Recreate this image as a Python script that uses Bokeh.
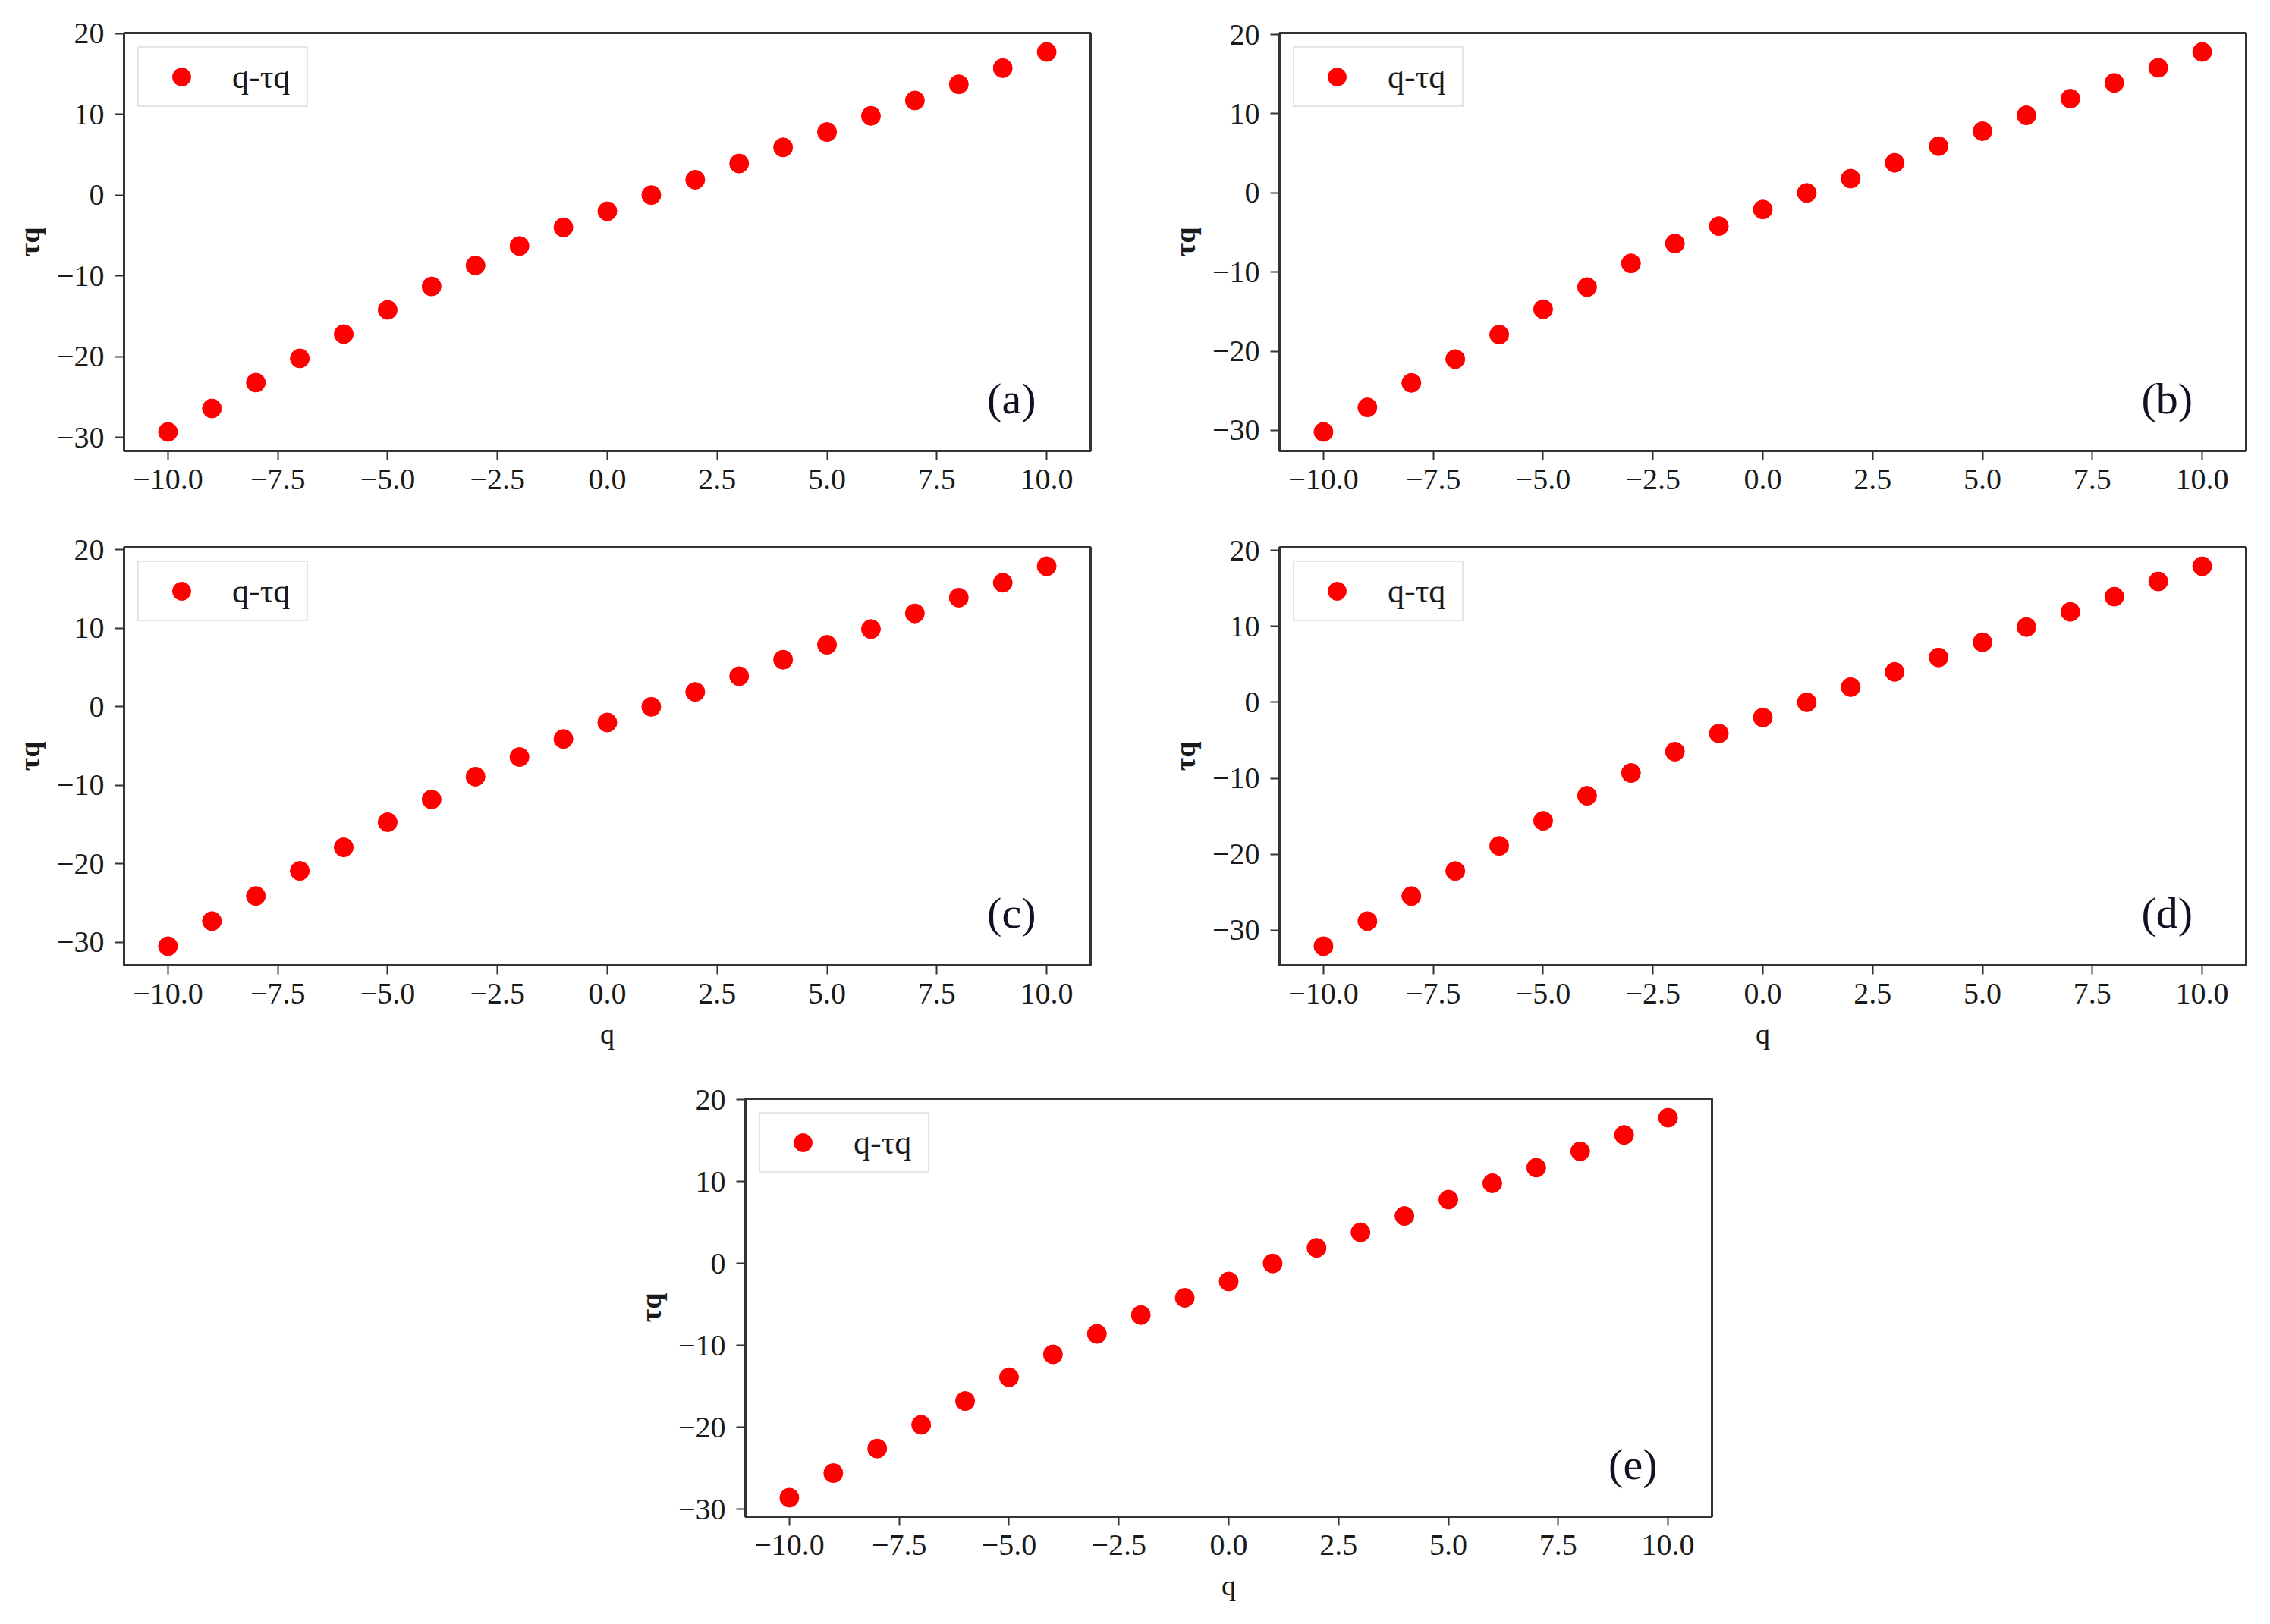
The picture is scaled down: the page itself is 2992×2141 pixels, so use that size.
from bokeh.plotting import figure
from bokeh.models import (Range1d, FixedTicker, CustomJSTickFormatter, Legend, LegendItem,
                          Label, ColumnDataSource, Spacer)
from bokeh.layouts import column, row
from bokeh.embed import file_html
from bokeh.resources import INLINE

# ---------------- data ----------------
q = [-10, -9, -8, -7, -6, -5, -4, -3, -2, -1, 0, 1, 2, 3, 4, 5, 6, 7, 8, 9, 10]
tau_a = [-29.3, -26.4, -23.2, -20.2, -17.2, -14.2, -11.3, -8.7, -6.3, -4.0, -2.0,
         0.0, 1.9, 3.9, 5.9, 7.8, 9.8, 11.7, 13.7, 15.7, 17.7]
tau_b = [-30.2, -27.1, -24.0, -21.0, -17.9, -14.7, -11.9, -8.9, -6.4, -4.2, -2.1,
         0.0, 1.8, 3.8, 5.9, 7.8, 9.8, 11.9, 13.9, 15.8, 17.8]
tau_c = [-30.5, -27.3, -24.1, -20.9, -17.9, -14.7, -11.8, -8.9, -6.4, -4.1, -2.0,
         0.0, 1.9, 3.9, 6.0, 7.9, 9.9, 11.9, 13.9, 15.8, 17.9]
tau_d = [-32.1, -28.8, -25.5, -22.2, -18.9, -15.6, -12.3, -9.3, -6.5, -4.1, -2.0,
         0.0, 2.0, 4.0, 5.9, 7.9, 9.9, 11.9, 13.9, 15.9, 17.9]
tau_e = [-28.6, -25.6, -22.6, -19.7, -16.8, -13.9, -11.1, -8.6, -6.3, -4.2, -2.2,
         0.0, 1.9, 3.8, 5.8, 7.8, 9.8, 11.7, 13.7, 15.7, 17.8]

x_ticks = [-10.0, -7.5, -5.0, -2.5, 0.0, 2.5, 5.0, 7.5, 10.0]
y_ticks = [-30, -20, -10, 0, 10, 20]
panel_tags = ["(a)", "(b)", "(c)", "(d)", "(e)"]
legend_label = "q-τq"
x_label = "q"
y_label = "τq"

FONT = "Liberation Serif"
AX = "#333333"


def make_panel(tau, tag, show_xlabel, bl, br, bt, bb):
    lo, hi = min(tau), max(tau)
    pad = 0.05 * (hi - lo)
    y0, y1 = lo - pad, hi + pad
    p = figure(frame_width=1274, frame_height=551,
               x_range=Range1d(-11, 11), y_range=Range1d(y0, y1),
               output_backend="svg", toolbar_location=None,
               min_border_left=bl, min_border_right=br,
               min_border_top=bt, min_border_bottom=bb)
    p.grid.visible = False
    p.outline_line_color = AX
    p.outline_line_width = 3
    p.background_fill_color = "white"
    p.border_fill_color = "white"

    src = ColumnDataSource(dict(q=q, tau=tau))
    r = p.scatter(x="q", y="tau", source=src, size=25,
                  fill_color="#ff0000", line_color="#ff0000")

    for ax in (p.xaxis[0], p.yaxis[0]):
        ax.major_label_text_font = FONT
        ax.major_label_text_font_size = "40px"
        ax.major_label_text_color = "#1a1a1a"
        ax.major_tick_out = 12
        ax.major_tick_in = 0
        ax.minor_tick_out = 0
        ax.minor_tick_in = 0
        ax.major_tick_line_width = 2
        ax.major_tick_line_color = AX
        ax.axis_line_width = 3
        ax.axis_line_color = AX
        ax.axis_label_text_font = FONT
        ax.axis_label_text_font_size = "38px"
        ax.axis_label_text_color = "#1a1a1a"

    p.xaxis.ticker = FixedTicker(ticks=x_ticks)
    p.xaxis.formatter = CustomJSTickFormatter(
        code="return tick.toFixed(1).replace('-', '\u2212');")
    p.xaxis.major_label_standoff = 12
    if show_xlabel:
        p.xaxis.axis_label = x_label
        p.xaxis.axis_label_text_font_style = "normal"
        p.xaxis.axis_label_standoff = 16

    p.yaxis.ticker = FixedTicker(ticks=y_ticks)
    p.yaxis.formatter = CustomJSTickFormatter(
        code="return tick.toFixed(0).replace('-', '\u2212');")
    p.yaxis.major_label_standoff = 14
    p.yaxis.axis_label = y_label
    p.yaxis.axis_label_text_font_style = "bold"
    p.yaxis.axis_label_standoff = 12

    legend = Legend(items=[LegendItem(label=legend_label, renderers=[r])],
                    location="top_left", margin=18, padding=8, spacing=0,
                    glyph_width=96, glyph_height=60, label_standoff=19,
                    label_width=90,
                    label_text_font=FONT, label_text_font_size="44px",
                    label_text_color="#1a1a1a",
                    border_line_color="#cccccc", border_line_width=2,
                    background_fill_color="white", background_fill_alpha=0.8)
    p.add_layout(legend)

    p.add_layout(Label(x=9.2, y=y0 + 0.125 * (y1 - y0), text=tag,
                       text_font=FONT, text_font_size="58px", text_color="#111122",
                       text_align="center", text_baseline="middle"))
    return p


pa = make_panel(tau_a, panel_tags[0], False, 163, 95, 43, 92)
pb = make_panel(tau_b, panel_tags[1], False, 154, 20, 43, 92)
pc = make_panel(tau_c, panel_tags[2], True, 163, 95, 35, 141)
pd_ = make_panel(tau_d, panel_tags[3], True, 154, 20, 35, 141)
pe = make_panel(tau_e, panel_tags[4], True, 154, 20, 35, 110)

layout = column(row(pa, pb), row(pc, pd_), row(Spacer(width=828, height=10), pe))

open("out.html", "w").write(file_html(layout, INLINE))
